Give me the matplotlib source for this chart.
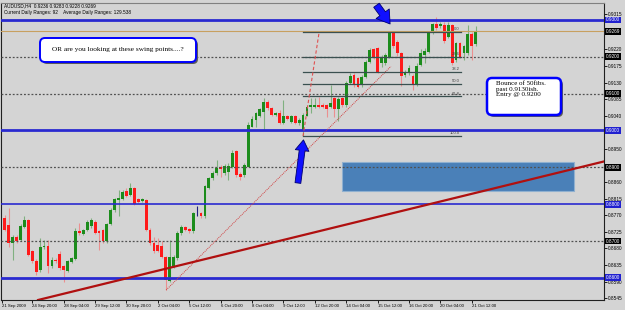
import matplotlib
matplotlib.use("Agg")
import matplotlib.pyplot as plt
from matplotlib.patches import Rectangle, FancyBboxPatch
from matplotlib.transforms import IdentityTransform

# H4 candles, first bar index relative to "24 Sep 20:00" = 0
first_bar = -7
opens = [0.8762, 0.8744, 0.8694, 0.8712, 0.8703, 0.8739, 0.8756, 0.8672, 0.8646, 0.8622,
         0.8683, 0.8687, 0.8631, 0.8649, 0.8665, 0.8631, 0.8620, 0.8643, 0.8652, 0.8726,
         0.8720, 0.8729, 0.8740, 0.8752, 0.8728, 0.8729, 0.8699, 0.8747, 0.8785, 0.8812,
         0.8814, 0.8837, 0.8825, 0.8843, 0.8814, 0.8810, 0.8812, 0.8730, 0.8694, 0.8690,
         0.8687, 0.8656, 0.8592, 0.8631, 0.8654, 0.8721, 0.8738, 0.8732, 0.8726, 0.8776,
         0.8776, 0.8767, 0.8843, 0.8871, 0.8884, 0.8900, 0.8884, 0.8888, 0.8902, 0.8943,
         0.8882, 0.8879, 0.8902, 0.9010, 0.9028, 0.9038, 0.9051, 0.9078, 0.9060, 0.9042,
         0.9047, 0.9019, 0.9038, 0.9024, 0.9039, 0.9019, 0.9001, 0.9040, 0.9063, 0.9065,
         0.9069, 0.9069, 0.9069, 0.9065, 0.9087, 0.9058, 0.9087, 0.9069, 0.9130, 0.9151,
         0.9142, 0.9124, 0.9146, 0.9187, 0.9220, 0.9223, 0.9182, 0.9182, 0.9200, 0.9266,
         0.9241, 0.9209, 0.9151, 0.9155, 0.9148, 0.9124, 0.9178, 0.9205, 0.9214, 0.9266,
         0.9289, 0.9284, 0.9286, 0.9255, 0.9286, 0.9191, 0.9237, 0.9211, 0.9209, 0.9262,
         0.9236]
highs = [0.8771, 0.8789, 0.8717, 0.8717, 0.8747, 0.8767, 0.8759, 0.8676, 0.8651, 0.8708,
         0.8703, 0.8703, 0.8658, 0.8654, 0.8672, 0.8636, 0.8649, 0.8658, 0.8735, 0.8748,
         0.8732, 0.8758, 0.8762, 0.8756, 0.8730, 0.8732, 0.8750, 0.8789, 0.8818, 0.8839,
         0.8839, 0.8843, 0.8857, 0.8848, 0.8816, 0.8818, 0.8815, 0.8735, 0.8712, 0.8708,
         0.8699, 0.8660, 0.8703, 0.8663, 0.8726, 0.8744, 0.8741, 0.8735, 0.8780, 0.8796,
         0.8780, 0.8852, 0.8875, 0.8891, 0.8920, 0.8906, 0.8908, 0.8911, 0.8947, 0.8947,
         0.8888, 0.8911, 0.9024, 0.9038, 0.9051, 0.9062, 0.9087, 0.9083, 0.9065, 0.9051,
         0.9056, 0.9083, 0.9042, 0.9042, 0.9042, 0.9033, 0.9047, 0.9069, 0.9087, 0.9087,
         0.9090, 0.9074, 0.9072, 0.9124, 0.9090, 0.9090, 0.9090, 0.9135, 0.9155, 0.9155,
         0.9146, 0.9151, 0.9191, 0.9223, 0.9223, 0.9226, 0.9204, 0.9210, 0.9268, 0.9271,
         0.9245, 0.9212, 0.9164, 0.9178, 0.9152, 0.9182, 0.9220, 0.9223, 0.9271, 0.9293,
         0.9309, 0.9295, 0.9295, 0.9295, 0.9290, 0.9240, 0.9240, 0.9231, 0.9286, 0.9266,
         0.9283]
lows = [0.8726, 0.8685, 0.8649, 0.8694, 0.8699, 0.8735, 0.8660, 0.8640, 0.8608, 0.8617,
        0.8678, 0.8613, 0.8626, 0.8640, 0.8622, 0.8588, 0.8615, 0.8640, 0.8649, 0.8717,
        0.8717, 0.8726, 0.8736, 0.8720, 0.8676, 0.8696, 0.8696, 0.8744, 0.8780, 0.8767,
        0.8812, 0.8819, 0.8821, 0.8798, 0.8803, 0.8807, 0.8726, 0.8690, 0.8667, 0.8669,
        0.8654, 0.8568, 0.8590, 0.8626, 0.8649, 0.8717, 0.8726, 0.8723, 0.8723, 0.8767,
        0.8762, 0.8762, 0.8841, 0.8866, 0.8880, 0.8875, 0.8879, 0.8866, 0.8897, 0.8875,
        0.8866, 0.8875, 0.8900, 0.9009, 0.9010, 0.9036, 0.9001, 0.9056, 0.9038, 0.9038,
        0.9018, 0.9017, 0.9028, 0.9019, 0.9017, 0.9016, 0.8985, 0.9038, 0.9047, 0.9060,
        0.9062, 0.9060, 0.9036, 0.9060, 0.9036, 0.9025, 0.9065, 0.9065, 0.9126, 0.9119,
        0.9115, 0.9119, 0.9142, 0.9182, 0.9195, 0.9155, 0.9173, 0.9178, 0.9196, 0.9223,
        0.9203, 0.9121, 0.9146, 0.9150, 0.9110, 0.9120, 0.9175, 0.9182, 0.9210, 0.9262,
        0.9273, 0.9277, 0.9238, 0.9250, 0.9178, 0.9187, 0.9196, 0.9191, 0.9205, 0.9191,
        0.9228]
closes = [0.8730, 0.8694, 0.8712, 0.8699, 0.8741, 0.8756, 0.8663, 0.8645, 0.8617, 0.8683,
          0.8687, 0.8631, 0.8649, 0.8646, 0.8626, 0.8622, 0.8645, 0.8654, 0.8726, 0.8721,
          0.8729, 0.8753, 0.8756, 0.8723, 0.8723, 0.8699, 0.8747, 0.8785, 0.8814, 0.8816,
          0.8833, 0.8823, 0.8843, 0.8801, 0.8807, 0.8814, 0.8730, 0.8694, 0.8672, 0.8672,
          0.8658, 0.8595, 0.8658, 0.8658, 0.8721, 0.8738, 0.8729, 0.8726, 0.8776, 0.8776,
          0.8767, 0.8850, 0.8871, 0.8886, 0.8897, 0.8895, 0.8904, 0.8904, 0.8940, 0.8879,
          0.8875, 0.8906, 0.9015, 0.9030, 0.9047, 0.9057, 0.9078, 0.9060, 0.9042, 0.9047,
          0.9019, 0.9038, 0.9032, 0.9038, 0.9019, 0.9028, 0.9042, 0.9065, 0.9069, 0.9069,
          0.9065, 0.9065, 0.9058, 0.9074, 0.9058, 0.9085, 0.9069, 0.9130, 0.9148, 0.9124,
          0.9119, 0.9146, 0.9187, 0.9219, 0.9200, 0.9160, 0.9200, 0.9205, 0.9266, 0.9228,
          0.9209, 0.9148, 0.9160, 0.9169, 0.9124, 0.9175, 0.9209, 0.9217, 0.9266, 0.9289,
          0.9277, 0.9289, 0.9244, 0.9286, 0.9182, 0.9237, 0.9200, 0.9228, 0.9262, 0.9229,
          0.9269]

time_ticks = [-7.7, 0, 8, 16, 24, 32, 40, 48, 56, 64, 72, 80, 88, 96, 104, 112]
time_labels = ["21 Sep 2009", "24 Sep 20:00", "28 Sep 04:00", "29 Sep 12:00",
               "30 Sep 20:00", "2 Oct 04:00", "5 Oct 12:00", "6 Oct 20:00",
               "8 Oct 04:00", "9 Oct 12:00", "12 Oct 20:00", "14 Oct 04:00",
               "15 Oct 12:00", "16 Oct 20:00", "20 Oct 04:00", "21 Oct 12:00"]

price_ticks = [0.8545, 0.8590, 0.8635, 0.8680, 0.8725, 0.8770, 0.8815, 0.8860,
               0.8950, 0.9040, 0.9085, 0.9130, 0.9175, 0.9220, 0.9315]
blue_levels = [0.9300, 0.9000, 0.8800, 0.8600]
blue_widths = [2.0, 2.0, 1.2, 2.0]
dotted_levels = [0.9200, 0.9100, 0.8900, 0.8700]
bid_price = 0.9269

fib_bars = [69, 109.3]
fib_low, fib_high = 0.8985, 0.9267
fib_ratios = [0.0, 23.6, 38.2, 50.0, 61.8, 100.0]
fib_diag_bars = [69, 73.1]

swing_trend_bars = [34.1, 91.4]
swing_trend_prices = [0.8567, 0.9174]
long_trend_bars = [0.7, 145.7]
long_trend_prices = [0.8538, 0.8916]

zone_bars = [78.9, 138.0]
zone_prices = [0.8836, 0.8915]

arrow_down = [(87.3, 0.9346), (91.6, 0.9283)]
arrow_up = [(67.6, 0.8850), (69.2, 0.8982)]

W, H = 625, 310
BG = "#d4d4d4"


def note_box(fig, x0, y0, x1, y1, lw):
    shadow = FancyBboxPatch((x0 + 2, H - y1 - 2), x1 - x0, y1 - y0,
                            boxstyle="round,pad=0,rounding_size=5",
                            transform=IdentityTransform(), fc="#5a5a5a", ec="none")
    box = FancyBboxPatch((x0, H - y1), x1 - x0, y1 - y0,
                         boxstyle="round,pad=0,rounding_size=5",
                         transform=IdentityTransform(), fc="white", ec="#0000ff", lw=lw)
    fig.add_artist(shadow)
    fig.add_artist(box)


def main():
    fig = plt.figure(figsize=(W / 100, H / 100), dpi=100, facecolor=BG)
    ax = fig.add_axes([1 / W, 10 / H, 603 / W, 297 / H], facecolor=BG)
    ax.set_xlim(-7.98, 145.7)
    ax.set_ylim(0.8540, 0.9346)

    # levels
    for lvl, lw in zip(blue_levels, blue_widths):
        ax.axhline(lvl, color="#2a2ad0", lw=lw, zorder=3)
    for lvl in dotted_levels:
        ax.axhline(lvl, color="#505050", lw=0.9, ls=(0, (1.5, 1.5)), zorder=3)
    ax.axhline(bid_price, color="#c8a060", lw=0.8, zorder=3)

    # candles
    bars = list(range(first_bar, first_bar + len(opens)))
    body_bottom, body_height, body_col, wick_col = [], [], [], []
    for o, c in zip(opens, closes):
        body_bottom.append(min(o, c))
        body_height.append(max(abs(c - o), 0.00012))
        if c > o:
            body_col.append("#1c8c1c")
            wick_col.append("#80b080")
        elif c < o:
            body_col.append("#ff1a1a")
            wick_col.append("#eb8f8f")
        else:
            body_col.append("#202080")
            wick_col.append("#202080")
    ax.vlines(bars, lows, highs, colors=wick_col, lw=0.8, zorder=2)
    ax.bar(bars, body_height, bottom=body_bottom, width=0.72, color=body_col,
           lw=0, zorder=2.5)

    # zone
    ax.add_patch(Rectangle((zone_bars[0], zone_prices[0]), zone_bars[1] - zone_bars[0],
                           zone_prices[1] - zone_prices[0], fc="#4a80b8", ec="#8fb0d0",
                           lw=0.8, zorder=1.5))

    # trend lines
    ax.plot(swing_trend_bars, swing_trend_prices, color="#d04040", lw=0.7,
            ls=(0, (1, 1)), zorder=4)
    ax.axline((long_trend_bars[0], long_trend_prices[0]),
              (long_trend_bars[1], long_trend_prices[1]), color="#b01010", lw=1.6, zorder=4)

    # fibonacci retracement
    for r in fib_ratios:
        lvl = fib_high - (fib_high - fib_low) * r / 100
        ax.plot(fib_bars, [lvl, lvl], color="#3a5050", lw=0.9, zorder=4)
        ax.text(fib_bars[1] - 0.4, lvl + 0.0002, f"{r:.1f}", fontsize=3, ha="right",
                va="bottom", color="#404040", family="Liberation Sans", zorder=5)
    ax.plot(fib_diag_bars, [fib_low, fib_high], color="#e05050", lw=0.8,
            ls=(0, (3, 2)), zorder=4)

    # arrows
    for tail, tip, scale in ((*arrow_down, 13), (*arrow_up, 11)):
        ax.annotate("", xy=tip, xytext=tail, zorder=6, annotation_clip=False,
                    arrowprops=dict(arrowstyle="simple,head_width=0.9,head_length=0.7,tail_width=0.38",
                                    mutation_scale=scale, fc="#1010ff", ec="#000070", lw=0.6))

    # axes styling
    for side in ("left", "bottom", "right"):
        ax.spines[side].set_color("#202020")
        ax.spines[side].set_linewidth(0.8)
    ax.spines["top"].set_color("#808080")
    ax.yaxis.tick_right()
    ax.set_yticks(price_ticks)
    ax.set_yticklabels([f"{p:.4f}" for p in price_ticks])
    ax.tick_params(axis="y", length=2, width=0.6, pad=1, labelsize=3.4)
    ax.set_xticks(time_ticks)
    ax.set_xticklabels(time_labels, ha="left")
    ax.tick_params(axis="x", length=2, width=0.6, pad=1, labelsize=3.1)
    for lab in ax.get_xticklabels() + ax.get_yticklabels():
        lab.set_family("Liberation Sans")

    # price flags on the right
    ytr = ax.get_yaxis_transform()
    for lvl in blue_levels:
        ax.text(1.003, lvl, f"{lvl:.4f}", transform=ytr, fontsize=3.4, color="white",
                ha="left", va="center", family="Liberation Sans", clip_on=False,
                bbox=dict(boxstyle="square,pad=0.2", fc="#2020d0", ec="none"))
    for lvl in dotted_levels + [bid_price]:
        ax.text(1.003, lvl, f"{lvl:.4f}", transform=ytr, fontsize=3.4, color="white",
                ha="left", va="center", family="Liberation Sans", clip_on=False,
                bbox=dict(boxstyle="square,pad=0.2", fc="black", ec="none"))

    # header
    fig.text(4 / W, 1 - 3 / H, "AUDUSD,H4  0.9236 0.9283 0.9228 0.9269", fontsize=3.4,
             va="top", family="Liberation Sans")
    fig.text(4 / W, 1 - 10 / H, "Current Daily Ranges: 92    Average Daily Ranges: 129.538",
             fontsize=3.4, va="top", family="Liberation Sans")

    # notes
    note_box(fig, 40, 38, 196, 62, 1.4)
    fig.text(118 / W, 1 - 50 / H, "OR are you looking at these swing points....?",
             fontsize=5.2, ha="center", va="center", family="Liberation Serif")
    note_box(fig, 487, 78, 561, 115, 1.8)
    fig.text(496 / W, 1 - 81 / H, "Bounce of 50fibs.\npast 0.9130ish.\nEntry @ 0.9200",
             fontsize=5, ha="left", va="top", linespacing=1.15, family="Liberation Serif")

    fig.savefig("out.png", dpi=100, facecolor=BG)


if __name__ == "__main__":
    main()
